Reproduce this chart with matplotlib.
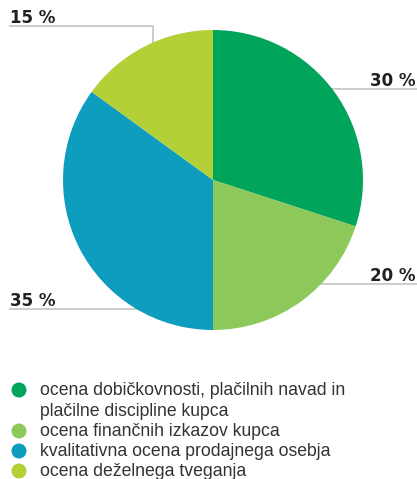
import matplotlib.pyplot as plt
from matplotlib.patches import Circle

# podatki
labels = ["ocena dobičkovnosti, plačilnih navad in\nplačilne discipline kupca",
          "ocena finančnih izkazov kupca",
          "kvalitativna ocena prodajnega osebja",
          "ocena deželnega tveganja"]
values = [30, 20, 35, 15]
pct_labels = ["30 %", "20 %", "35 %", "15 %"]
colors = ["#00a55b", "#8cc85a", "#0e9dbf", "#b3d036"]

W, H = 417, 479
fig = plt.figure(figsize=(W / 100, H / 100), dpi=100)
ax = fig.add_axes([0, 0, 1, 1])


def Y(py):
    # pixel y (od zgoraj) -> y osi
    return H - py


# pita
ax.pie(values, colors=colors, startangle=90, counterclock=False,
       center=(213, Y(180)), radius=150, frame=True,
       wedgeprops=dict(linewidth=0))
ax.set_xlim(0, W)
ax.set_ylim(0, H)
ax.set_aspect("equal")
ax.axis("off")

line_kw = dict(color="#cccccc", lw=1.4, zorder=0)
txt_kw = dict(fontsize=12, fontweight="bold", color="#231f20",
              family="DejaVu Sans")

# 30 %
ax.plot([300, 417], [Y(89), Y(89)], **line_kw)
ax.text(416, Y(86), pct_labels[0], ha="right", va="baseline", **txt_kw)
# 20 %
ax.plot([300, 417], [Y(284), Y(284)], **line_kw)
ax.text(416, Y(281), pct_labels[1], ha="right", va="baseline", **txt_kw)
# 35 %
ax.plot([10, 150], [Y(309), Y(309)], **line_kw)
ax.text(10, Y(306), pct_labels[2], ha="left", va="baseline", **txt_kw)
# 15 %
ax.plot([10, 153, 153], [Y(26), Y(26), Y(60)], **line_kw)
ax.text(10, Y(23), pct_labels[3], ha="left", va="baseline", **txt_kw)

# legenda
leg_y = [390, 431, 451, 471]
for lab, col, py in zip(labels, colors, leg_y):
    ax.add_patch(Circle((19, Y(py)), 7.5, color=col, lw=0))
    for i, ln in enumerate(lab.split("\n")):
        ax.text(40, Y(py + 20.5 * i) - 5, ln, ha="left", va="baseline",
                fontsize=12.7, color="#333333", family="Liberation Sans")

fig.savefig("out.png", dpi=100)
